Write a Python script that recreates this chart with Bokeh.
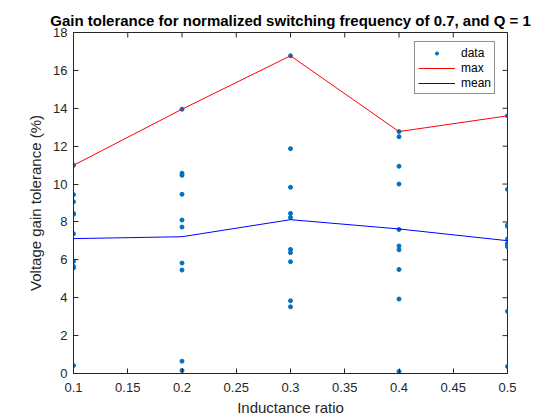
import math
from bokeh.plotting import figure
from bokeh.models import Range1d, FixedTicker, Legend, LegendItem, ColumnDataSource
from bokeh.embed import file_html
from bokeh.resources import INLINE

# ---- data ----
x_levels = [0.1, 0.2, 0.3, 0.4, 0.5]
data_x01 = [10.99, 9.44, 9.07, 8.45, 8.40, 7.38, 5.92, 5.65, 5.57, 0.42]
data_x02 = [13.95, 10.57, 10.46, 9.46, 8.10, 7.73, 5.83, 5.46, 0.65, 0.16]
data_x03 = [16.77, 11.87, 9.83, 8.45, 8.24, 6.55, 6.38, 5.90, 3.84, 3.52]
data_x04 = [12.77, 12.50, 10.94, 10.00, 7.60, 6.73, 6.53, 5.49, 3.93, 0.11]
data_x05 = [13.60, 9.72, 7.85, 7.77, 7.10, 6.87, 6.78, 6.69, 3.28, 0.37]
max_vals = [10.99, 13.95, 16.77, 12.77, 13.60]
mean_vals = [7.12, 7.22, 8.12, 7.63, 7.01]
x_ticks = [0.1, 0.15, 0.2, 0.25, 0.3, 0.35, 0.4, 0.45, 0.5]
x_tick_labels = ["0.1", "0.15", "0.2", "0.25", "0.3", "0.35", "0.4", "0.45", "0.5"]
y_ticks = [0, 2, 4, 6, 8, 10, 12, 14, 16, 18]
x_min, x_max = 0.1, 0.5
y_min, y_max = 0, 18
title_text = "Gain tolerance for normalized switching frequency of 0.7, and Q = 1"
x_label = "Inductance ratio"
y_label = "Voltage gain tolerance (%)"

groups = [data_x01, data_x02, data_x03, data_x04, data_x05]
px, py = [], []
for xv, g in zip(x_levels, groups):
    for v in g:
        px.append(xv)
        py.append(v)

FONT = "Liberation Sans"
AX = "#262626"

p = figure(width=560, height=420, output_backend="svg", toolbar_location=None,
           x_range=Range1d(x_min, x_max), y_range=Range1d(y_min, y_max),
           min_border_left=73, min_border_right=53, min_border_top=32, min_border_bottom=47)
p.outline_line_color = AX
p.outline_line_width = 1
p.grid.visible = False
p.background_fill_color = "white"

p.title.text = title_text
p.title.align = "center"
p.title.text_font = FONT
p.title.text_font_size = "15px"
p.title.text_font_style = "bold"
p.title.text_color = "black"
p.title.standoff = 8

def style(ax, ticks):
    ax.ticker = FixedTicker(ticks=ticks)
    ax.axis_line_color = AX
    ax.major_tick_line_color = AX
    ax.major_tick_in = 5
    ax.major_tick_out = 0
    ax.minor_tick_line_color = None
    ax.major_label_text_font = FONT
    ax.major_label_text_color = AX
    ax.major_label_text_font_size = "13px"
    ax.axis_label_text_font = FONT
    ax.axis_label_text_font_size = "15px"
    ax.axis_label_text_font_style = "normal"
    ax.axis_label_text_color = AX

style(p.xaxis[0], x_ticks)
p.xaxis[0].major_label_overrides = {t: l for t, l in zip(x_ticks, x_tick_labels)}
p.xaxis[0].axis_label = x_label
p.xaxis[0].major_label_standoff = 9
p.xaxis[0].axis_label_standoff = 4
style(p.yaxis[0], y_ticks)
p.yaxis[0].axis_label = y_label
p.yaxis[0].major_label_standoff = 6
p.yaxis[0].axis_label_standoff = 6

# inner ticks on the top and right edges of the box
p.scatter(x_ticks, [y_max] * len(x_ticks), marker="dash", angle=math.pi / 2, size=10,
          line_color=AX, line_width=1)
p.scatter([x_max] * len(y_ticks), y_ticks, marker="dash", size=10,
          line_color=AX, line_width=1)

src = ColumnDataSource(dict(x=px, y=py))
r_data = p.scatter("x", "y", source=src, size=4, color="#0072BD", marker="circle")
r_max = p.line(x_levels, max_vals, line_color="#FF0000", line_width=1)
r_mean = p.line(x_levels, mean_vals, line_color="#0000FF", line_width=1)

legend = Legend(items=[LegendItem(label="data", renderers=[r_data]),
                       LegendItem(label="max", renderers=[r_max]),
                       LegendItem(label="mean", renderers=[r_mean])],
                location=(341, 279))
legend.label_text_font = FONT
legend.label_text_font_size = "12px"
legend.label_text_color = "black"
legend.border_line_color = AX
legend.border_line_width = 1
legend.padding = 3
legend.spacing = 0
legend.margin = 0
legend.glyph_width = 37
legend.glyph_height = 8
legend.label_height = 15
legend.label_width = 0
legend.label_standoff = 6
legend.background_fill_alpha = 1
p.add_layout(legend)

open("out.html", "w").write(file_html(p, INLINE))
